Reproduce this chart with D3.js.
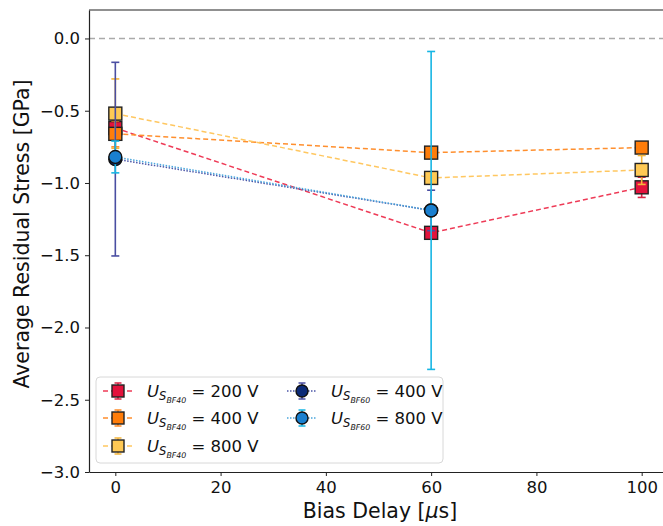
<!DOCTYPE html>
<html>
<head>
<meta charset="utf-8">
<script src="https://d3js.org/d3.v7.min.js"></script>
<style>
  body { margin: 0; background: #fff; }
  text { font-family: "DejaVu Sans", sans-serif; fill: #111; }
</style>
</head>
<body>
<svg id="chart" width="663" height="526"></svg>
<script>
// bias delay positions
const delays40 = [0, 60, 100];
const delays60 = [0, 60];

// mean residual stress [GPa] and error bars
const bf40_200 = [-0.62, -1.345, -1.03];
const bf40_200_err = [0.03, 0.02, 0.07];
const bf40_400 = [-0.66, -0.79, -0.755];
const bf40_400_err = [0.09, 0.02, 0.02];
const bf40_800 = [-0.52, -0.965, -0.91];
const bf40_800_err = [0.24, 0.03, 0.1];
const bf60_400 = [-0.835, -1.19];
const bf60_400_err = [0.67, 0.14];
const bf60_800 = [-0.82, -1.19];
const bf60_800_err = [0.11, 1.10];

const xTicks = [0, 20, 40, 60, 80, 100];
const yTicks = [0, -0.5, -1, -1.5, -2, -2.5, -3];

const series = [
  {sub: "BF40", volt: "200 V", xs: delays40, ys: bf40_200, err: bf40_200_err, shape: "square", fill: "#e3123c", line: "#ee3b57", ecolor: "#d92445", dash: "5,3"},
  {sub: "BF40", volt: "400 V", xs: delays40, ys: bf40_400, err: bf40_400_err, shape: "square", fill: "#ff7d0a", line: "#ff8f2e", ecolor: "#ff8c28", dash: "5,3"},
  {sub: "BF40", volt: "800 V", xs: delays40, ys: bf40_800, err: bf40_800_err, shape: "square", fill: "#ffc954", line: "#ffc760", ecolor: "#f5b63c", dash: "5,3"},
  {sub: "BF60", volt: "400 V", xs: delays60, ys: bf60_400, err: bf60_400_err, shape: "circle", fill: "#0c2b78", line: "#4b56a8", ecolor: "#4a4ea2", dash: "1.5,1.5"},
  {sub: "BF60", volt: "800 V", xs: delays60, ys: bf60_800, err: bf60_800_err, shape: "circle", fill: "#1a80d0", line: "#4aa6dc", ecolor: "#17b6e4", dash: "1.5,1.5"}
];

const svg = d3.select("#chart");
const mLeft = 89, mTop = 10, mBottom = 472, mRight = 668;

const x = d3.scaleLinear().domain([-5, 105]).range([mLeft, mRight]);
const y = d3.scaleLinear().domain([-3, 0.197]).range([mBottom, mTop]);

// zero reference
svg.append("line")
  .attr("x1", mLeft).attr("x2", mRight)
  .attr("y1", y(0)).attr("y2", y(0))
  .attr("stroke", "#aaa").attr("stroke-width", 1.5)
  .attr("stroke-dasharray", "6,4");

// axes
const gx = svg.append("g").attr("transform", "translate(0," + mBottom + ")")
  .call(d3.axisBottom(x).tickValues(xTicks).tickSize(4).tickSizeOuter(0).tickPadding(5));
const gy = svg.append("g").attr("transform", "translate(" + mLeft + ",0)")
  .call(d3.axisLeft(y).tickValues(yTicks).tickSize(4).tickSizeOuter(0).tickPadding(5)
    .tickFormat(d => d3.format(".1f")(d).replace("-", "\u2212")));
[gx, gy].forEach(g => {
  g.selectAll("text").style("font-size", "16.5px").attr("fill", "#111");
  g.selectAll("line").attr("stroke", "#222");
  g.select(".domain").attr("stroke", "#222").attr("stroke-width", 1.2);
});

// top spine
svg.append("line").attr("x1", mLeft).attr("x2", mRight)
  .attr("y1", mTop).attr("y2", mTop).attr("stroke", "#222").attr("stroke-width", 1.2);

// labels
svg.append("text").attr("x", 380).attr("y", 518).attr("text-anchor", "middle")
  .style("font-size", "20.5px").html('Bias Delay [<tspan font-style="italic">\u03bc</tspan>s]');
svg.append("text").attr("transform", "translate(29," + 234 + ") rotate(-90)")
  .attr("text-anchor", "middle").style("font-size", "20.5px").text("Average Residual Stress [GPa]");

const plot = svg.append("g");

function drawMarker(g, s, cx, cy, size) {
  if (s.shape === "square") {
    g.append("rect").attr("x", cx - size / 2).attr("y", cy - size / 2)
      .attr("width", size).attr("height", size)
      .attr("fill", s.fill).attr("stroke", "#222").attr("stroke-width", 1.4);
  } else {
    g.append("circle").attr("cx", cx).attr("cy", cy).attr("r", size / 2)
      .attr("fill", s.fill).attr("stroke", "#111").attr("stroke-width", 1.4);
  }
}

series.forEach(s => {
  const g = plot.append("g");
  const pts = s.xs.map((d, i) => [d, s.ys[i], s.err[i]]);
  g.append("path").datum(pts)
    .attr("d", d3.line().x(d => x(d[0])).y(d => y(d[1])))
    .attr("fill", "none").attr("stroke", s.line).attr("stroke-width", 1.5)
    .attr("stroke-dasharray", s.dash);
  pts.forEach(p => {
    const cx = x(p[0]);
    g.append("line").attr("x1", cx).attr("x2", cx)
      .attr("y1", y(p[1] - p[2])).attr("y2", y(p[1] + p[2]))
      .attr("stroke", s.ecolor).attr("stroke-width", 1.6);
    [p[1] - p[2], p[1] + p[2]].forEach(v => {
      g.append("line").attr("x1", cx - 4).attr("x2", cx + 4)
        .attr("y1", y(v)).attr("y2", y(v))
        .attr("stroke", s.ecolor).attr("stroke-width", 1.6);
    });
  });
  pts.forEach(p => drawMarker(g, s, x(p[0]), y(p[1]), 13));
});

// legend
const lg = svg.append("g");
lg.append("rect").attr("x", 96).attr("y", 377).attr("width", 347).attr("height", 86)
  .attr("rx", 4).attr("fill", "#fff").attr("fill-opacity", 0.85)
  .attr("stroke", "#d8d8d8").attr("stroke-width", 1);

const legendPos = [[118, 391], [118, 418], [118, 446], [302, 391], [302, 418]];
series.forEach((s, i) => {
  const [lx, ly] = legendPos[i];
  const g = lg.append("g");
  g.append("line").attr("x1", lx - 15).attr("x2", lx + 15).attr("y1", ly).attr("y2", ly)
    .attr("stroke", s.line).attr("stroke-width", 1.5).attr("stroke-dasharray", s.dash);
  g.append("line").attr("x1", lx).attr("x2", lx).attr("y1", ly - 8).attr("y2", ly + 8)
    .attr("stroke", s.ecolor).attr("stroke-width", 1.5);
  [ly - 8, ly + 8].forEach(v => g.append("line").attr("x1", lx - 3.5).attr("x2", lx + 3.5)
    .attr("y1", v).attr("y2", v).attr("stroke", s.ecolor).attr("stroke-width", 1.5));
  drawMarker(g, s, lx, ly, 12);
  const t = g.append("text").attr("x", lx + 29).attr("y", ly + 6).style("font-size", "16.5px");
  t.append("tspan").attr("font-style", "italic").text("U");
  t.append("tspan").attr("font-style", "italic").attr("dy", 3).style("font-size", "11.5px").text("S");
  t.append("tspan").attr("font-style", "italic").attr("dy", 3).style("font-size", "7.8px").text(s.sub);
  t.append("tspan").attr("dy", -6).text(" = " + s.volt);
});
</script>
</body>
</html>
